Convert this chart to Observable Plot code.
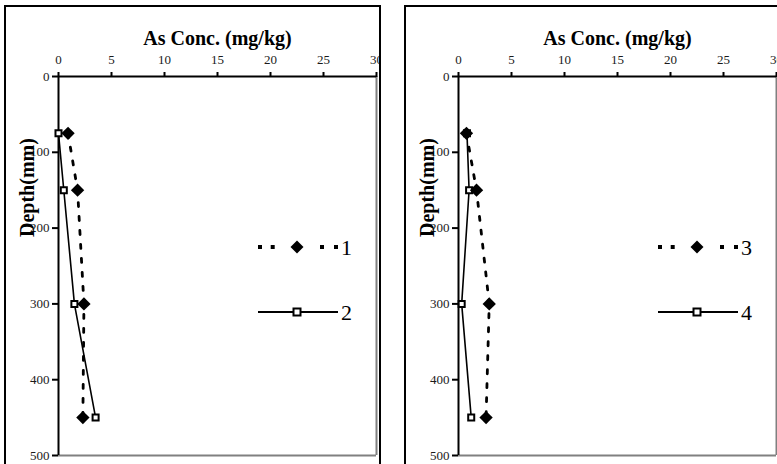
<!DOCTYPE html>
<html>
<head>
<meta charset="utf-8">
<script src="https://cdn.jsdelivr.net/npm/d3@7"></script>
<script src="https://cdn.jsdelivr.net/npm/@observablehq/plot@0.6"></script>
<style>
  html, body { margin: 0; padding: 0; background: #fff; }
  body { width: 777px; height: 464px; position: relative; overflow: hidden; font-family: "Liberation Serif", "Times New Roman", serif; }
  .panel { position: absolute; top: 6px; }
  .border { position: absolute; border: 2px solid #000; box-sizing: border-box; pointer-events: none; }
  #legend { position: absolute; left: 0; top: 0; pointer-events: none; }
</style>
</head>
<body>
<div id="p1" class="panel" style="left:5px"></div>
<div id="p2" class="panel" style="left:405px"></div>
<div class="border" style="left:4px; top:5px; width:377px; height:520px"></div>
<div class="border" style="left:404px; top:5px; width:380px; height:520px"></div>
<svg id="legend" width="777" height="464"></svg>
<script>
// ---- data ----
const depth = [75, 150, 300, 450];
const series1 = [0.9, 1.8, 2.4, 2.3];
const series2 = [0.0, 0.5, 1.5, 3.5];
const series3 = [0.75, 1.7, 2.9, 2.6];
const series4 = [0.8, 1.0, 0.3, 1.2];
const seriesNames = ["1", "2", "3", "4"];
const xTicks = [0, 5, 10, 15, 20, 25, 30];
const yTicks = [0, 100, 200, 300, 400, 500];
const xTitle = "As Conc. (mg/kg)";
const yTitle = "Depth(mm)";

const font = "'Liberation Serif', 'Times New Roman', serif";

function rows(values, name) {
  return depth.map((d, i) => ({ depth: d, conc: values[i], series: name }));
}

function panel(dotted, solid, width, marginRight) {
  return Plot.plot({
    width, height: 460,
    marginLeft: 53, marginRight, marginTop: 70, marginBottom: 11,
    x: { domain: [0, 30] },
    y: { domain: [0, 500], reverse: true },
    style: { fontFamily: font, fontSize: "13px", background: "white", color: "#000" },
    marks: [
      Plot.ruleX([30], { stroke: "#808080", strokeWidth: 2 }),
      Plot.ruleY([500], { stroke: "#808080", strokeWidth: 2 }),
      Plot.axisX({ anchor: "top", ticks: xTicks, tickSize: 5, tickPadding: 8, strokeWidth: 2, label: null,
                   fill: "#1a1a1a", fontSize: 13, fontFamily: font, fontVariant: "normal" }),
      Plot.axisY({ anchor: "left", ticks: yTicks, tickSize: 6, tickPadding: 3, strokeWidth: 2, label: null,
                   fill: "#1a1a1a", fontSize: 13, fontFamily: font, fontVariant: "normal" }),
      Plot.ruleX([0], { stroke: "#000", strokeWidth: 2 }),
      Plot.ruleY([0], { stroke: "#000", strokeWidth: 2 }),
      Plot.text([xTitle], { frameAnchor: "top", dy: -46, fontSize: 20, fontWeight: "bold", fontFamily: font, fill: "#000" }),
      Plot.text([yTitle], { frameAnchor: "left", dx: -31, dy: -29, rotate: -90, fontSize: 20, fontWeight: "bold", fontFamily: font, fill: "#000" }),
      Plot.line(solid, { x: "conc", y: "depth", stroke: "#000", strokeWidth: 1.6 }),
      Plot.line(dotted, { x: "conc", y: "depth", stroke: "#000", strokeWidth: 2.8, strokeDasharray: "4,10" }),
      Plot.dot(solid, { x: "conc", y: "depth", symbol: "square", fill: "#fff", stroke: "#000", strokeWidth: 2, r: 3.4 }),
      Plot.dot(dotted, { x: "conc", y: "depth", symbol: "diamond2", fill: "#000", r: 6 })
    ]
  });
}

document.getElementById("p1").append(panel(rows(series1, seriesNames[0]), rows(series2, seriesNames[1]), 374, 3));
document.getElementById("p2").append(panel(rows(series3, seriesNames[2]), rows(series4, seriesNames[3]), 372, 1));

// ---- legends ----
const lg = d3.select("#legend");
const legendItems = [
  { name: seriesNames[0], x0: 258, y: 247, dotted: true },
  { name: seriesNames[1], x0: 258, y: 312, dotted: false },
  { name: seriesNames[2], x0: 658, y: 247, dotted: true },
  { name: seriesNames[3], x0: 658, y: 312, dotted: false }
];
for (const it of legendItems) {
  const g = lg.append("g").attr("transform", `translate(${it.x0},${it.y})`);
  g.append("line").attr("x1", 0).attr("x2", 80).attr("y1", 0).attr("y2", 0)
    .attr("stroke", "#000")
    .attr("stroke-width", it.dotted ? 4 : 1.8)
    .attr("stroke-dasharray", it.dotted ? "4,8.7,4,45.3,4,10" : null);
  if (it.dotted) {
    g.append("path").attr("d", "M39,-6.5L45.5,0L39,6.5L32.5,0Z").attr("fill", "#000");
  } else {
    g.append("rect").attr("x", 35.5).attr("y", -3.5).attr("width", 7).attr("height", 7)
      .attr("fill", "#fff").attr("stroke", "#000").attr("stroke-width", 2);
  }
  g.append("text").attr("x", 83).attr("y", 8).attr("font-family", font)
    .attr("font-size", 22).attr("fill", "#000").text(it.name);
}
</script>
</body>
</html>
